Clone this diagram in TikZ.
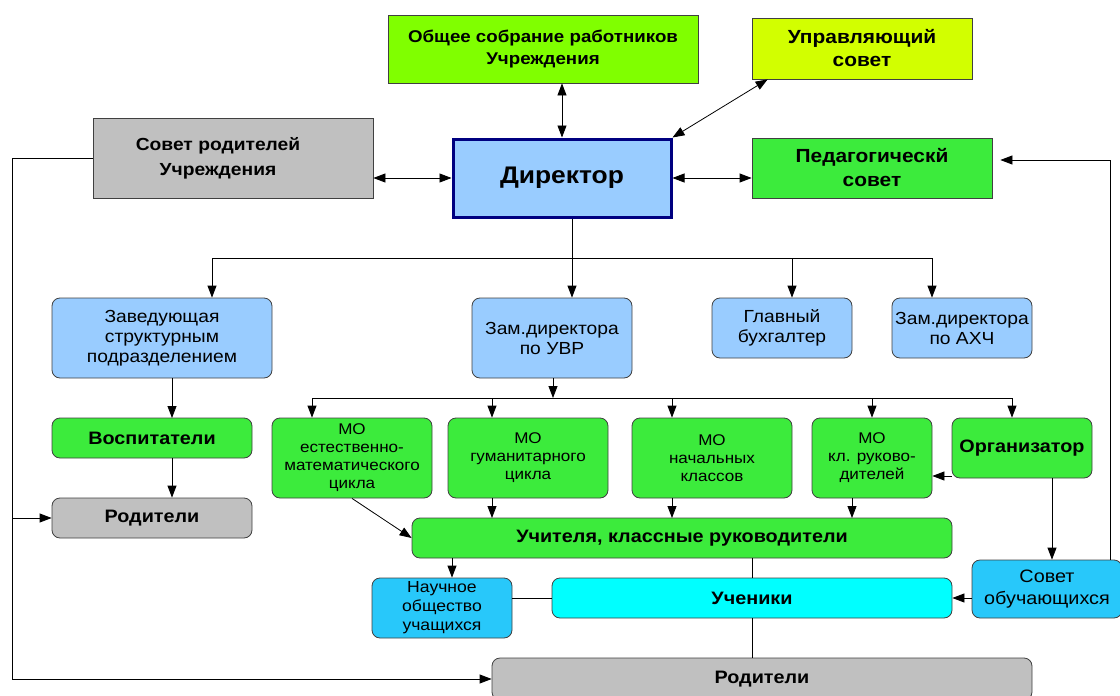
\documentclass[tikz,border=0pt]{standalone}
\usepackage{fontspec}
\setmainfont[FakeStretch=1.1]{Liberation Sans}
\usepackage{xcolor}
\usepackage{tikz}
\usetikzlibrary{positioning}
\usetikzlibrary{arrows.meta,shapes}
\usetikzlibrary{calc}

\definecolor{chartreuse}{RGB}{128,255,0}
\definecolor{limeyel}{RGB}{210,255,0}
\definecolor{boxgray}{RGB}{192,192,192}
\definecolor{paleblue}{RGB}{153,204,255}
\definecolor{boxgreen}{RGB}{60,235,60}
\definecolor{skyblue}{RGB}{40,200,250}
\definecolor{cyanbox}{RGB}{0,255,255}
\definecolor{dirnavy}{RGB}{0,0,128}

\tikzstyle{block}=[rectangle,draw=black!75,line width=0.8pt,align=center,inner sep=1pt]
\tikzstyle{rblock}=[block,rounded corners=8pt]
\tikzstyle{edge} = [draw,line width=0.8pt,-{Triangle[length=12pt,width=9pt]}]
\tikzstyle{bothedge} = [draw,line width=0.8pt,{Triangle[length=12pt,width=9pt]}-{Triangle[length=12pt,width=9pt]}]
\tikzstyle{link} = [draw,line width=0.8pt]
\tikzset{txtbold/.style={font=\bfseries\fontsize{18}{22}\selectfont},
         txtmid/.style={font=\fontsize{17.5}{20}\selectfont},
         txtsmall/.style={font=\fontsize{15.5}{18}\selectfont}}

\begin{document}
\begin{tikzpicture}[x=1pt,y=-1pt]

  \useasboundingbox (0,0) rectangle (1120,696);

  % top level
  \node[block,fill=chartreuse,minimum width=310pt,minimum height=68pt,font=\bfseries\fontsize{17}{22}\selectfont] (sobr) at (543,49) {Общее собрание работников\\Учреждения};
  \node[block,fill=limeyel,minimum width=220pt,minimum height=61pt,font=\bfseries\fontsize{19}{23}\selectfont] (upr) at (862,48.5) {Управляющий\\совет};
  \node[block,fill=boxgray,minimum width=280pt,minimum height=80pt,font=\bfseries\fontsize{17.5}{25}\selectfont] (sovrod) at (233,158) {Совет родителей\hspace*{30pt}\\Учреждения\hspace*{30pt}};
  \node[block,fill=paleblue,draw=dirnavy,line width=3pt,minimum width=218pt,minimum height=78pt,font=\bfseries\fontsize{24}{26}\selectfont] (dir) at (562,178) {Директор};
  \node[block,fill=boxgreen,minimum width=240pt,minimum height=60pt,font=\bfseries\fontsize{19}{24}\selectfont] (ped) at (872,168) {Педагогическй\\совет};

  % deputies
  \foreach \x/\y/\w/\h/\name/\label in {162/338/220/80/zav/{Заведующая\\структурным\\подразделением},
          552/338/160/80/zamuvr/{Зам.директора\\по УВР}, 782/328/140/60/buh/{Главный\\бухгалтер},
          962/328/140/60/zamahch/{Зам.директора\\по АХЧ}}
          \node[rblock,txtmid,fill=paleblue,minimum width=\w pt,minimum height=\h pt] (\name) at (\x,\y) {\label};

  % methodical unions
  \foreach \x/\y/\w/\h/\name/\label in {352/458/160/80/moem/{МО\\естественно-\\математического\\цикла},
          528/458/160/80/mogum/{МО\\гуманитарного\\цикла}, 712/458/160/80/monach/{МО\\начальных\\классов},
          872/458/120/80/mokl/{МО\\кл. руково-\\дителей}}
          \node[rblock,txtsmall,fill=boxgreen,minimum width=\w pt,minimum height=\h pt] (\name) at (\x,\y) {\label};

  \foreach \x/\y/\w/\h/\name/\label in {152/438/200/40/vosp/Воспитатели, 1022/448/140/60/org/Организатор,
          682/538/540/40/uchit/{Учителя, классные руководители}}
          \node[rblock,txtbold,fill=boxgreen,minimum width=\w pt,minimum height=\h pt] (\name) at (\x,\y) {\label};

  \node[rblock,txtbold,fill=boxgray,minimum width=200pt,minimum height=40pt] (rod1) at (152,518) {Родители};
  \node[rblock,txtbold,fill=boxgray,minimum width=540pt,minimum height=42pt] (rod2) at (762,679) {Родители};
  \node[rblock,txtbold,fill=cyanbox,minimum width=400pt,minimum height=40pt] (uchen) at (752,598) {Ученики};
  \node[rblock,fill=skyblue,minimum width=140pt,minimum height=60pt,font=\fontsize{16}{19}\selectfont] (nauch) at (442,608) {Научное\\общество\\учащихся};
  \node[rblock,fill=skyblue,minimum width=150pt,minimum height=58pt,font=\fontsize{18}{22}\selectfont] (sovob) at (1047,589) {Совет\\обучающихся};

  % bus points
  \coordinate (t1) at (212,258);
  \coordinate (t2) at (572,258);
  \coordinate (t3) at (792,258);
  \coordinate (t4) at (932,258);
  \coordinate (m0) at (553,398);
  \foreach \name/\xx in {m1/312, m2/492, m3/672, m4/872, m5/1012}
          \coordinate (\name) at (\xx,398);
  \coordinate (ua) at (492,518);
  \coordinate (ub) at (672,518);
  \coordinate (uc) at (852,518);
  \coordinate (za) at (172,418);
  \coordinate (la) at (12,518);
  \coordinate (na) at (452,558);
  \coordinate (oa) at (952,476);
  \coordinate (ob) at (1052,478);
  \coordinate (sa) at (1110,160);

  % director links
  \path[bothedge] (sobr.south -| dir.north) -- (dir.north);
  \path[bothedge] (dir.north east) -- ($(upr.south west)+(16,0)$);
  \path[bothedge] (sovrod.east |- dir.west) -- (dir.west);
  \path[bothedge] (dir.east) -- (ped.west |- dir.east);

  \path[link] (dir.south -| t2) -- (t2);
  \path[link] (t1) -- (t4);
  \foreach \t/\dest in {t1/zav, t2/zamuvr, t3/buh, t4/zamahch}
         \path[edge] (\t) -- (\t |- \dest.north);

  \path[edge] (zamuvr.south -| m0) -- (m0);
  \path[link] (m1) -- (m5);
  \foreach \t/\dest in {m1/moem, m2/mogum, m3/monach, m4/mokl, m5/org}
         \path[edge] (\t) -- (\t |- \dest.north);

  \path[edge] (moem.south) -- (uchit.west);
  \foreach \t/\src in {ua/mogum, ub/monach, uc/mokl}
         \path[edge] (\t |- \src.south) -- (\t);

  \path[edge] (oa) -- (oa -| mokl.east);
  \path[edge] (ob) -- (ob |- sovob.north);
  \path[edge] (uchen.east -| sovob.west) -- (uchen.east);
  \path[edge,shorten >=8pt] (sa |- sovob.north) -- (sa) -- (sa -| ped.east);

  \path[edge] (na) -- (na |- nauch.north);
  \path[link] (nauch.east |- uchen.west) -- (uchen.west);
  \path[link] (uchen.north |- uchit.south) -- (uchen.north);
  \path[link] (uchen.south) -- (uchen.south |- rod2.north);

  \path[edge] (za |- zav.south) -- (za);
  \path[edge] (za |- vosp.south) -- (za |- rod1.north);

  \path[edge] (sovrod.west) -- (sovrod.west -| la) -- (la |- rod2.west) -- (rod2.west);
  \path[edge] (la) -- (la -| rod1.west);

\end{tikzpicture}
\end{document}
